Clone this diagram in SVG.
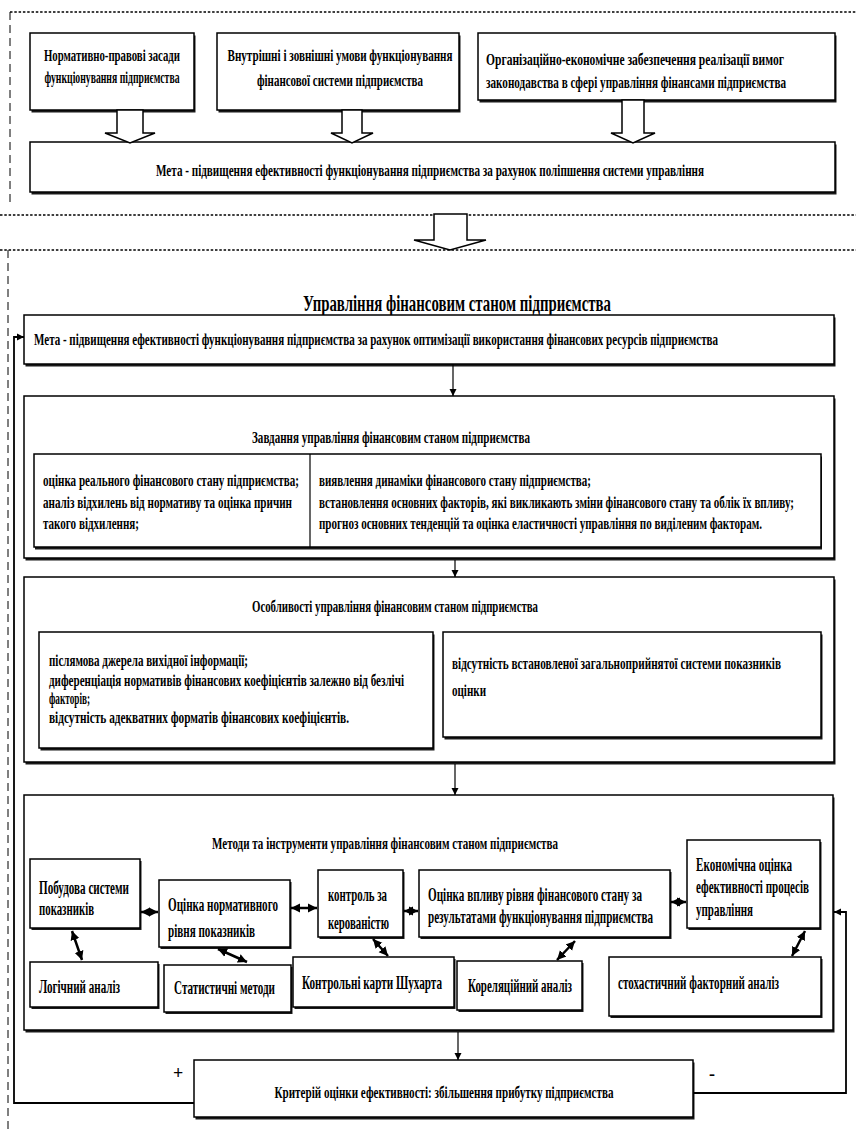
<svg xmlns="http://www.w3.org/2000/svg" width="856" height="1133" viewBox="0 0 856 1133">
<defs>
<style>
text{font-family:"Liberation Serif","Times New Roman",serif;font-weight:bold;fill:#000}
.s14{font-size:16px}
.s15{font-size:17px}
.s16{font-size:18px}
.s20{font-size:24px}
.mid{text-anchor:middle}
.box{fill:#fff;stroke:#000;stroke-width:1.5}
.sh{fill:#1a1a1a}
.dash{fill:none;stroke:#000;stroke-width:1.6;stroke-dasharray:2.5 1.8}
.dashv{fill:none;stroke:#000;stroke-width:1;stroke-dasharray:8 5}
.hollow{fill:#fff;stroke:#000;stroke-width:1.5;stroke-linejoin:miter}
.ln{fill:none;stroke:#000;stroke-width:1.2}
.fb{fill:none;stroke:#000;stroke-width:1.8}
.dbl{fill:none;stroke:#000;stroke-width:2.5}
</style>
<marker id="ah" viewBox="0 0 10 10" refX="10" refY="5" markerWidth="7" markerHeight="11" markerUnits="userSpaceOnUse" orient="auto-start-reverse">
<path d="M0,0 L10,5 L0,10 z" fill="#000"/>
</marker>
<marker id="dh" viewBox="0 0 10 10" refX="10" refY="5" markerWidth="9" markerHeight="11" markerUnits="userSpaceOnUse" orient="auto-start-reverse">
<path d="M0,0 L10,5 L0,10 z" fill="#000"/>
</marker>
</defs>
<rect x="0" y="0" width="856" height="1133" fill="#fff"/>

<g id="frames">
<line class="dash" x1="10" y1="12" x2="856" y2="12"/>
<line class="dashv" x1="10" y1="12" x2="10" y2="206"/>
<line class="dash" x1="0" y1="215" x2="856" y2="215"/>
<line class="dash" x1="0" y1="250" x2="856" y2="250"/>
<line class="dashv" x1="8" y1="250" x2="8" y2="1133"/>
</g>

<g id="n-legal">
<rect class="sh" x="31.5" y="35.5" width="164" height="77"/>
<rect class="box" x="30" y="33" width="164" height="77"/>
<text class="s14 mid" x="112" y="61" textLength="136" lengthAdjust="spacingAndGlyphs">Нормативно-правові засади</text>
<text class="s14 mid" x="112" y="83" textLength="135" lengthAdjust="spacingAndGlyphs">функціонування підприємства</text>
</g>

<g id="n-conditions">
<rect class="sh" x="218.5" y="35.5" width="242" height="77"/>
<rect class="box" x="217" y="33" width="242" height="77"/>
<text class="s14 mid" x="340" y="61" textLength="225" lengthAdjust="spacingAndGlyphs">Внутрішні і зовнішні умови функціонування</text>
<text class="s14 mid" x="340" y="86" textLength="166" lengthAdjust="spacingAndGlyphs">фінансової системи підприємства</text>
</g>

<g id="n-org">
<rect class="sh" x="479.5" y="35.5" width="357" height="67"/>
<rect class="box" x="478" y="33" width="357" height="67"/>
<text class="s14" x="486" y="65" textLength="298" lengthAdjust="spacingAndGlyphs">Організаційно-економічне забезпечення реалізації вимог</text>
<text class="s14" x="486" y="88" textLength="300" lengthAdjust="spacingAndGlyphs">законодавства в сфері управління фінансами підприємства</text>
</g>

<g id="n-goal1">
<rect class="sh" x="31.5" y="144.5" width="805" height="50"/>
<rect class="box" x="30" y="142" width="805" height="50"/>
<text class="s14 mid" x="430" y="176" textLength="548" lengthAdjust="spacingAndGlyphs">Мета - підвищення ефективності функціонування підприємства за рахунок поліпшення системи управління</text>
</g>

<g id="n-title">
<text class="s20 mid" x="457" y="311" textLength="308" lengthAdjust="spacingAndGlyphs">Управління фінансовим станом підприємства</text>
</g>

<g id="n-goal2">
<rect class="sh" x="25.5" y="317.5" width="810" height="49"/>
<rect class="box" x="24" y="315" width="810" height="49"/>
<text class="s14" x="34" y="345" textLength="684" lengthAdjust="spacingAndGlyphs">Мета - підвищення ефективності функціонування підприємства за рахунок оптимізації використання фінансових ресурсів підприємства</text>
</g>

<g id="n-tasks">
<rect class="sh" x="25.5" y="398.5" width="810" height="162"/>
<rect class="box" x="24" y="396" width="810" height="162"/>
<text class="s14 mid" x="391" y="443" textLength="278" lengthAdjust="spacingAndGlyphs">Завдання управління фінансовим станом підприємства</text>
<rect class="sh" x="35" y="456.5" width="787" height="93"/>
<rect class="box" x="34" y="454" width="787" height="93"/>
<line class="ln" x1="310" y1="454" x2="310" y2="547"/>
<text class="s14" x="43" y="486" textLength="256" lengthAdjust="spacingAndGlyphs">оцінка реального фінансового стану підприємства;</text>
<text class="s14" x="43" y="508" textLength="249" lengthAdjust="spacingAndGlyphs">аналіз відхилень від нормативу та оцінка причин</text>
<text class="s14" x="43" y="529" textLength="96" lengthAdjust="spacingAndGlyphs">такого відхилення;</text>
<text class="s14" x="319" y="486" textLength="272" lengthAdjust="spacingAndGlyphs">виявлення динаміки фінансового стану підприємства;</text>
<text class="s14" x="319" y="508" textLength="475" lengthAdjust="spacingAndGlyphs">встановлення основних факторів, які викликають зміни фінансового стану та облік їх впливу;</text>
<text class="s14" x="319" y="529" textLength="443" lengthAdjust="spacingAndGlyphs">прогноз основних тенденцій та оцінка еластичності управління по виділеним факторам.</text>
</g>

<g id="n-features">
<rect class="sh" x="25.5" y="579.5" width="810" height="185"/>
<rect class="box" x="24" y="577" width="810" height="185"/>
<text class="s14 mid" x="395" y="612" textLength="286" lengthAdjust="spacingAndGlyphs">Особливості управління фінансовим станом підприємства</text>
<rect class="sh" x="40.5" y="634.5" width="394" height="116"/>
<rect class="box" x="39" y="632" width="394" height="116"/>
<text class="s14" x="49" y="666" textLength="199" lengthAdjust="spacingAndGlyphs">післямова джерела вихідної інформації;</text>
<text class="s14" x="49" y="686" textLength="355" lengthAdjust="spacingAndGlyphs">диференціація нормативів фінансових коефіцієнтів залежно від безлічі</text>
<text class="s14" x="49" y="704" textLength="41" lengthAdjust="spacingAndGlyphs">факторів;</text>
<text class="s14" x="49" y="723" textLength="300" lengthAdjust="spacingAndGlyphs">відсутність адекватних форматів фінансових коефіцієнтів.</text>
<rect class="sh" x="444.5" y="634.5" width="378" height="105"/>
<rect class="box" x="443" y="632" width="378" height="105"/>
<text class="s14" x="452" y="669" textLength="329" lengthAdjust="spacingAndGlyphs">відсутність встановленої загальноприйнятої системи показників</text>
<text class="s14" x="452" y="696" textLength="34" lengthAdjust="spacingAndGlyphs">оцінки</text>
</g>

<g id="n-methods">
<rect class="sh" x="25.5" y="797.5" width="809" height="235"/>
<rect class="box" x="24" y="795" width="809" height="235"/>
<text class="s15 mid" x="385" y="849" textLength="346" lengthAdjust="spacingAndGlyphs">Методи та інструменти управління фінансовим станом підприємства</text>
</g>

<g id="n-build">
<rect class="sh" x="31.5" y="861" width="110" height="69"/>
<rect class="box" x="30" y="859" width="110" height="69"/>
<text class="s16" x="39" y="894" textLength="90" lengthAdjust="spacingAndGlyphs">Побудова системи</text>
<text class="s16" x="39" y="915" textLength="55" lengthAdjust="spacingAndGlyphs">показників</text>
</g>

<g id="n-norm">
<rect class="sh" x="160.5" y="882" width="131" height="67"/>
<rect class="box" x="159" y="880" width="131" height="67"/>
<text class="s16" x="168" y="911" textLength="110" lengthAdjust="spacingAndGlyphs">Оцінка нормативного</text>
<text class="s16" x="168" y="937" textLength="87" lengthAdjust="spacingAndGlyphs">рівня показників</text>
</g>

<g id="n-control">
<rect class="sh" x="319.5" y="872" width="85" height="67"/>
<rect class="box" x="318" y="870" width="85" height="67"/>
<text class="s16" x="328" y="901" textLength="59" lengthAdjust="spacingAndGlyphs">контроль за</text>
<text class="s16" x="328" y="929" textLength="61" lengthAdjust="spacingAndGlyphs">керованістю</text>
</g>

<g id="n-impact">
<rect class="sh" x="420.5" y="872" width="251" height="67"/>
<rect class="box" x="419" y="870" width="251" height="67"/>
<text class="s16" x="428" y="901" textLength="214" lengthAdjust="spacingAndGlyphs">Оцінка впливу рівня фінансового стану за</text>
<text class="s16" x="428" y="923" textLength="225" lengthAdjust="spacingAndGlyphs">результатами функціонування підприємства</text>
</g>

<g id="n-econ">
<rect class="sh" x="688.5" y="842" width="133" height="88"/>
<rect class="box" x="687" y="840" width="133" height="88"/>
<text class="s16" x="696" y="871" textLength="96" lengthAdjust="spacingAndGlyphs">Економічна оцінка</text>
<text class="s16" x="696" y="893" textLength="113" lengthAdjust="spacingAndGlyphs">ефективності процесів</text>
<text class="s16" x="696" y="916" textLength="57" lengthAdjust="spacingAndGlyphs">управління</text>
</g>

<g id="n-logic">
<rect class="sh" x="31.5" y="964" width="128" height="45"/>
<rect class="box" x="30" y="962" width="128" height="45"/>
<text class="s16" x="39" y="993" textLength="81" lengthAdjust="spacingAndGlyphs">Логічний аналіз</text>
</g>

<g id="n-stat">
<rect class="sh" x="165.5" y="967" width="127" height="47"/>
<rect class="box" x="164" y="965" width="127" height="47"/>
<text class="s16" x="174" y="994" textLength="101" lengthAdjust="spacingAndGlyphs">Статистичні методи</text>
</g>

<g id="n-shewhart">
<rect class="sh" x="294.5" y="959" width="161" height="50"/>
<rect class="box" x="293" y="957" width="161" height="50"/>
<text class="s16" x="302" y="989" textLength="140" lengthAdjust="spacingAndGlyphs">Контрольні карти Шухарта</text>
</g>

<g id="n-corr">
<rect class="sh" x="458.5" y="963" width="125" height="49"/>
<rect class="box" x="457" y="961" width="125" height="49"/>
<text class="s16" x="468" y="992" textLength="104" lengthAdjust="spacingAndGlyphs">Кореляційний аналіз</text>
</g>

<g id="n-stoch">
<rect class="sh" x="610.5" y="959" width="212" height="59"/>
<rect class="box" x="609" y="957" width="212" height="59"/>
<text class="s16" x="618" y="989" textLength="161" lengthAdjust="spacingAndGlyphs">стохастичний факторний аналіз</text>
</g>

<g id="n-criterion">
<rect class="sh" x="195.5" y="1062.5" width="499" height="57"/>
<rect class="box" x="194" y="1060" width="499" height="57"/>
<text class="s14 mid" x="444" y="1098" textLength="339" lengthAdjust="spacingAndGlyphs">Критерій оцінки ефективності: збільшення прибутку підприємства</text>
</g>

<g id="connectors">
<polygon class="hollow" points="117,110 143,110 143,133 155,133 130,143 105,133 117,133"/>
<polygon class="hollow" points="342,110 362,110 362,133 373,133 352,143 331,133 342,133"/>
<polygon class="hollow" points="622,100 644,100 644,133 655,133 633,143 611,133 622,133"/>
<polygon class="hollow" points="434,214 467,214 467,240 486,240 450,250 414,240 434,240"/>
<line class="ln" x1="453" y1="364" x2="453" y2="396" marker-end="url(#ah)"/>
<line class="ln" x1="455" y1="560" x2="455" y2="577" marker-end="url(#ah)"/>
<line class="ln" x1="455" y1="764" x2="455" y2="795" marker-end="url(#ah)"/>
<line class="ln" x1="458" y1="1032" x2="458" y2="1060" marker-end="url(#ah)"/>
<line class="dbl" x1="141" y1="912" x2="158" y2="912" marker-start="url(#dh)" marker-end="url(#dh)"/>
<line class="dbl" x1="291" y1="908" x2="317" y2="908" marker-start="url(#dh)" marker-end="url(#dh)"/>
<line class="dbl" x1="404" y1="911" x2="418" y2="911" marker-start="url(#dh)" marker-end="url(#dh)"/>
<line class="dbl" x1="671" y1="902" x2="686" y2="902" marker-start="url(#dh)" marker-end="url(#dh)"/>
<line class="dbl" x1="72" y1="931" x2="82" y2="960" marker-start="url(#dh)" marker-end="url(#dh)"/>
<line class="dbl" x1="218" y1="949" x2="247" y2="962" marker-start="url(#dh)" marker-end="url(#dh)"/>
<line class="dbl" x1="373" y1="939" x2="388" y2="956" marker-start="url(#dh)" marker-end="url(#dh)"/>
<line class="dbl" x1="575" y1="941" x2="557" y2="960" marker-start="url(#dh)" marker-end="url(#dh)"/>
<line class="dbl" x1="805" y1="931" x2="792" y2="956" marker-start="url(#dh)" marker-end="url(#dh)"/>
<polyline class="fb" points="194,1103 14,1103 14,337 24,337" marker-end="url(#ah)"/>
<polyline class="fb" points="693,1093 846,1093 846,912 834,912" marker-end="url(#ah)"/>
<text class="s16" x="173" y="1079">+</text>
<text class="s16" x="709" y="1080">-</text>
</g>
</svg>
